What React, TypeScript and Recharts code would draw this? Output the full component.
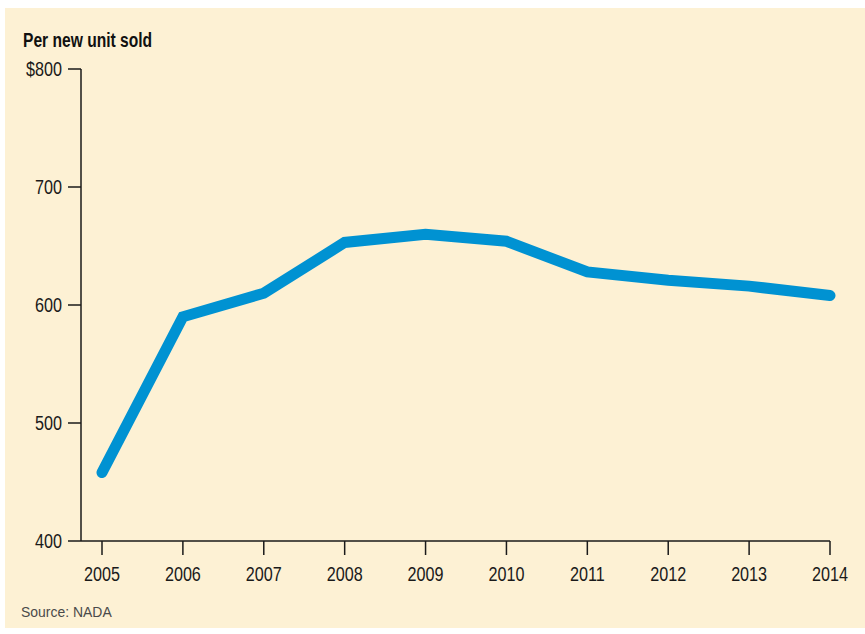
import { LineChart, Line, XAxis, YAxis } from 'recharts';

const years = [2005, 2006, 2007, 2008, 2009, 2010, 2011, 2012, 2013, 2014];
const perUnit = [458, 590, 610, 653, 660, 654, 628, 621, 616, 608];
const yTicks = [400, 500, 600, 700, 800];

const data = years.map((year, i) => ({ year, value: perUnit[i] }));

const font = '"Liberation Sans", Arial, sans-serif';
const squeeze = 0.77;

// condensed-looking tick: scale the text horizontally around its anchor
function XTick(props: any) {
  const { x, y, payload } = props;
  return (
    <text
      transform={`translate(${x},${y}) scale(${squeeze},1)`}
      dy="0.71em"
      textAnchor="middle"
      fill="#1a1a1a"
      fontSize={21}
      fontFamily={font}
    >
      {payload.value}
    </text>
  );
}

function YTick(props: any) {
  const { x, y, payload } = props;
  const label = payload.value === 800 ? '$800' : String(payload.value);
  return (
    <text
      transform={`translate(${x},${y}) scale(${squeeze},1)`}
      dy="0.355em"
      textAnchor="end"
      fill="#1a1a1a"
      fontSize={21}
      fontFamily={font}
    >
      {label}
    </text>
  );
}

export default function App() {
  return (
    <div style={{ position: 'absolute', left: 0, top: 0, width: 865, height: 634, background: '#ffffff', fontFamily: font }}>
      <div style={{ position: 'absolute', left: 5, top: 8, width: 860, height: 620, background: '#fdf1d4' }} />
      <div
        style={{
          position: 'absolute', left: 23, top: 29, fontSize: 20, fontWeight: 'bold', color: '#111',
          transform: 'scaleX(0.78)', transformOrigin: 'left top', whiteSpace: 'nowrap',
        }}
      >
        Per new unit sold
      </div>
      <div
        style={{
          position: 'absolute', left: 21, top: 603, fontSize: 15, color: '#4a4a4a',
          transform: 'scaleX(0.93)', transformOrigin: 'left top', whiteSpace: 'nowrap',
        }}
      >
        Source: NADA
      </div>
      <div style={{ position: 'absolute', left: 0, top: 0 }}>
        <LineChart width={865} height={634} data={data} margin={{ top: 69, right: 35, bottom: 53, left: 0 }}>
          <XAxis
            type="number"
            dataKey="year"
            domain={[2005, 2014]}
            ticks={years}
            padding={{ left: 21, right: 0 }}
            height={40}
            tickSize={14}
            tickMargin={11}
            stroke="#1a1a1a"
            strokeWidth={1.5}
            tick={<XTick />}
          />
          <YAxis
            type="number"
            domain={[400, 800]}
            ticks={yTicks}
            width={81}
            tickSize={13}
            tickMargin={6}
            stroke="#1a1a1a"
            strokeWidth={1.5}
            tick={<YTick />}
          />
          <Line
            type="linear"
            dataKey="value"
            stroke="#0092d2"
            strokeWidth={11}
            strokeLinecap="round"
            strokeLinejoin="miter"
            dot={false}
            activeDot={false}
            isAnimationActive={false}
          />
        </LineChart>
      </div>
    </div>
  );
}
